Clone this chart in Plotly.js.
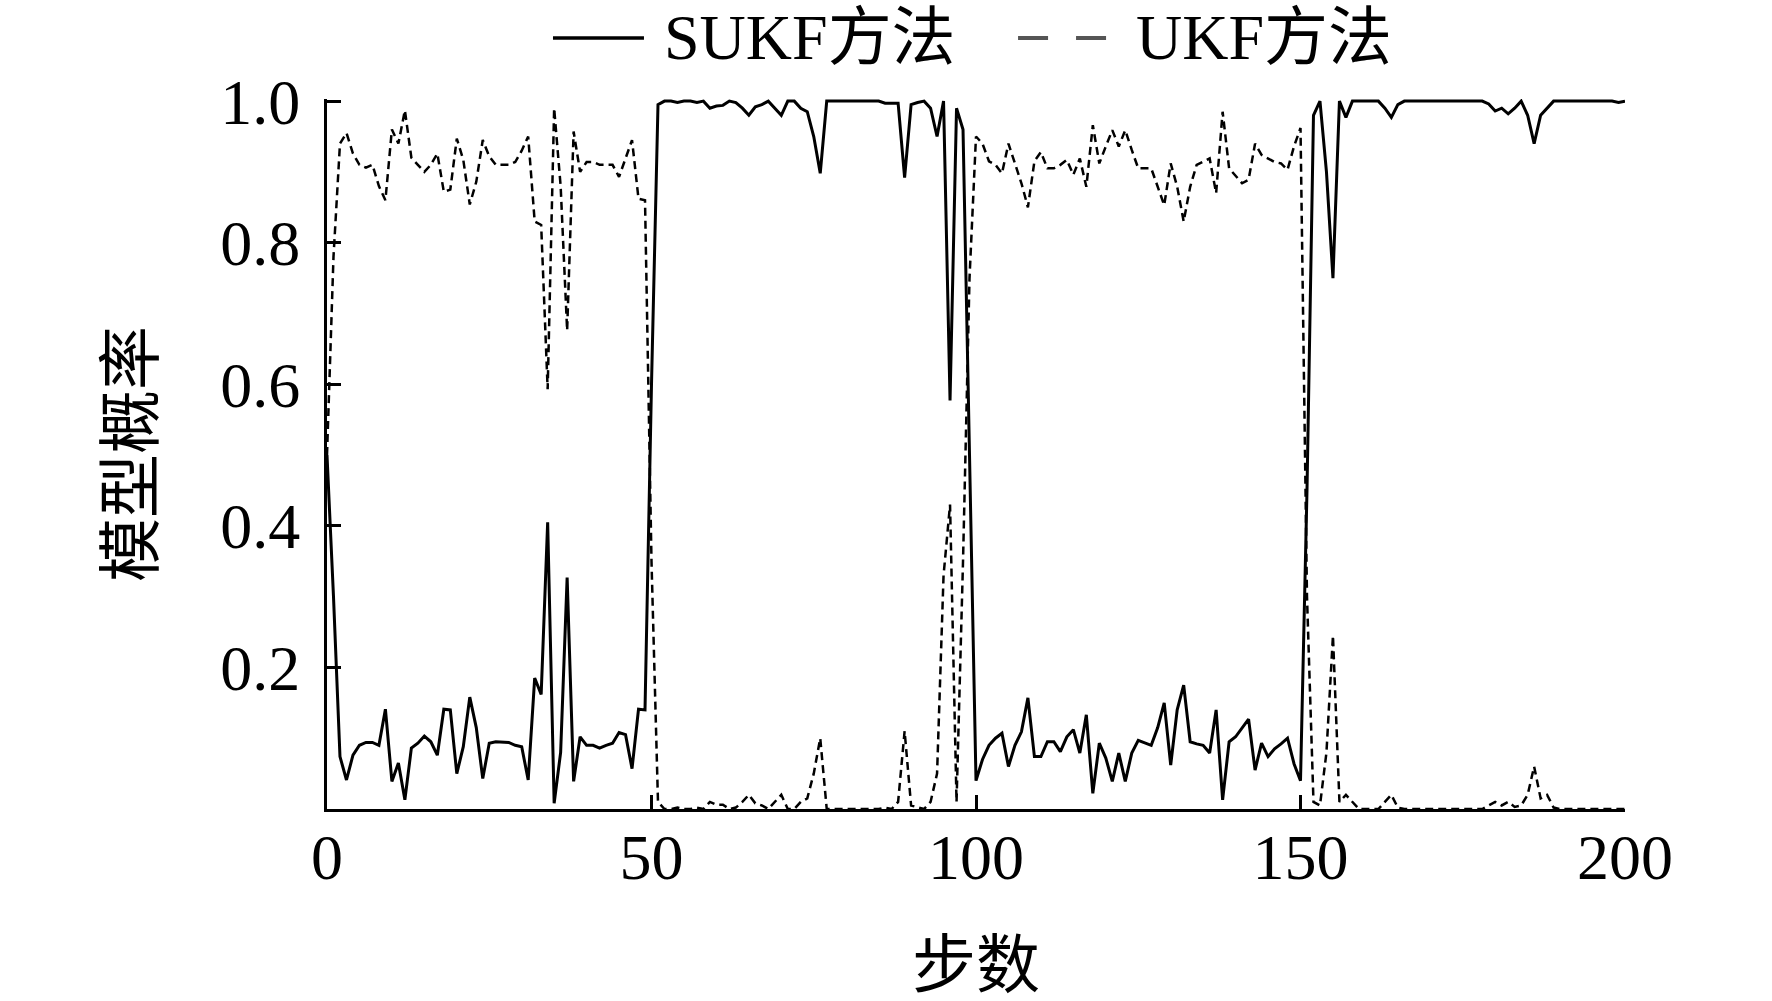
<!doctype html>
<html lang="zh">
<head>
    <meta charset="UTF-8">
    <title>模型概率</title>
    <script src="https://cdn.plot.ly/plotly-3.0.1.min.js"></script>
    <style>
        html, body { margin: 0; padding: 0; background: #fff; }
        #chart { width: 1772px; height: 1001px; }
    </style>
</head>
<body>
    <div id="chart"></div>
    <script>
        // model probability per step, steps 0..200
        var sukf = [
            0.50, 0.30, 0.074, 0.041, 0.076, 0.090, 0.094, 0.094, 0.090, 0.141,
            0.039, 0.065, 0.013, 0.086, 0.093, 0.103, 0.095, 0.076, 0.141, 0.140,
            0.050, 0.088, 0.158, 0.115, 0.043, 0.093, 0.095, 0.095, 0.094, 0.090,
            0.088, 0.041, 0.185, 0.162, 0.405, 0.008, 0.080, 0.327, 0.039, 0.102,
            0.090, 0.090, 0.086, 0.090, 0.093, 0.108, 0.105, 0.057, 0.141, 0.140,
            0.600, 0.995, 1.000, 1.000, 0.998, 1.000, 1.000, 0.998, 1.000, 0.990,
            0.993, 0.994, 1.000, 0.998, 0.990, 0.980, 0.992, 0.995, 1.000, 0.990,
            0.980, 1.000, 1.000, 0.990, 0.985, 0.950, 0.898, 1.000, 1.000, 1.000,
            1.000, 1.000, 1.000, 1.000, 1.000, 1.000, 0.997, 0.997, 0.997, 0.892,
            0.995, 0.998, 1.000, 0.990, 0.950, 1.000, 0.577, 0.990, 0.960, 0.500,
            0.040, 0.070, 0.090, 0.100, 0.107, 0.060, 0.090, 0.109, 0.157, 0.074,
            0.074, 0.095, 0.095, 0.081, 0.102, 0.112, 0.079, 0.133, 0.022, 0.093,
            0.072, 0.039, 0.079, 0.039, 0.079, 0.097, 0.093, 0.090, 0.115, 0.150,
            0.062, 0.140, 0.175, 0.095, 0.092, 0.090, 0.079, 0.140, 0.013, 0.095,
            0.102, 0.115, 0.127, 0.055, 0.093, 0.074, 0.085, 0.092, 0.100, 0.064,
            0.040, 0.450, 0.980, 1.000, 0.900, 0.750, 1.000, 0.977, 1.000, 1.000,
            1.000, 1.000, 1.000, 0.990, 0.977, 0.995, 1.000, 1.000, 1.000, 1.000,
            0.999, 1.000, 1.000, 1.000, 1.000, 0.999, 1.000, 1.000, 1.000, 0.996,
            0.986, 0.990, 0.982, 0.990, 1.000, 0.980, 0.940, 0.980, 0.990, 1.000,
            1.000, 1.000, 1.000, 1.000, 1.000, 1.000, 1.000, 1.000, 1.000, 0.998,
            1.000
        ];

        var ukf = [
            0.50, 0.78, 0.940, 0.955, 0.926, 0.910, 0.906, 0.910, 0.880, 0.860,
            0.960, 0.940, 0.987, 0.920, 0.910, 0.900, 0.910, 0.926, 0.872, 0.875,
            0.947, 0.917, 0.854, 0.886, 0.945, 0.922, 0.910, 0.910, 0.910, 0.914,
            0.930, 0.950, 0.830, 0.825, 0.593, 0.990, 0.880, 0.676, 0.957, 0.900,
            0.914, 0.914, 0.910, 0.910, 0.910, 0.893, 0.920, 0.945, 0.862, 0.860,
            0.350, 0.010, 0.000, 0.000, 0.002, 0.000, 0.000, 0.002, 0.000, 0.010,
            0.006, 0.006, 0.000, 0.002, 0.010, 0.020, 0.008, 0.005, 0.000, 0.010,
            0.020, 0.000, 0.000, 0.010, 0.015, 0.050, 0.100, 0.000, 0.000, 0.000,
            0.000, 0.000, 0.000, 0.000, 0.000, 0.000, 0.002, 0.000, 0.010, 0.110,
            0.005, 0.002, 0.000, 0.010, 0.050, 0.330, 0.430, 0.010, 0.350, 0.750,
            0.950, 0.940, 0.915, 0.910, 0.898, 0.940, 0.912, 0.884, 0.850, 0.915,
            0.928, 0.905, 0.905, 0.910, 0.917, 0.896, 0.919, 0.879, 0.966, 0.912,
            0.936, 0.959, 0.936, 0.959, 0.931, 0.905, 0.905, 0.905, 0.879, 0.853,
            0.912, 0.879, 0.830, 0.879, 0.910, 0.915, 0.919, 0.870, 0.985, 0.905,
            0.895, 0.884, 0.889, 0.940, 0.924, 0.919, 0.914, 0.912, 0.903, 0.936,
            0.962, 0.300, 0.010, 0.005, 0.080, 0.245, 0.010, 0.020, 0.010, 0.000,
            0.000, 0.000, 0.000, 0.010, 0.020, 0.002, 0.000, 0.000, 0.000, 0.000,
            0.000, 0.000, 0.000, 0.000, 0.000, 0.000, 0.000, 0.000, 0.000, 0.005,
            0.010, 0.005, 0.010, 0.003, 0.005, 0.020, 0.060, 0.015, 0.020, 0.002,
            0.000, 0.000, 0.000, 0.000, 0.000, 0.000, 0.000, 0.000, 0.000, 0.000,
            0.000
        ];

        var seriesNames = ['SUKF方法', 'UKF方法'];
        var xTicks = [0, 50, 100, 150, 200];
        var yTicks = [0.2, 0.4, 0.6, 0.8, 1.0];
        var yTickText = ['0.2', '0.4', '0.6', '0.8', '1.0'];

        var font = 'Liberation Serif, Times New Roman, Noto Sans CJK SC, serif';

        var traces = [
            {
                y: sukf, x0: 0, dx: 1,
                type: 'scatter', mode: 'lines', name: seriesNames[0],
                line: { color: '#000', width: 3 }
            },
            {
                y: ukf, x0: 0, dx: 1,
                type: 'scatter', mode: 'lines', name: seriesNames[1],
                line: { color: '#000', width: 2.5, dash: '8px,5px' }
            }
        ];

        // hand-drawn legend across the top
        var legendY = 1.086;
        var layout = {
            width: 1772,
            height: 1001,
            margin: { l: 327, r: 147, t: 99, b: 192 },
            paper_bgcolor: '#fff',
            plot_bgcolor: '#fff',
            showlegend: false,
            font: { family: font, size: 64, color: '#000' },
            xaxis: {
                range: [0, 200],
                tickvals: xTicks,
                ticks: 'inside', ticklen: 14, tickwidth: 3, tickcolor: '#000',
                showline: true, linewidth: 3, linecolor: '#000',
                showgrid: false, zeroline: false,
                ticklabelstandoff: -10,
                tickfont: { family: font, size: 64 },
                title: { text: '步数', font: { family: font, size: 64 }, standoff: 60 }
            },
            yaxis: {
                range: [0, 1.003],
                tickvals: yTicks,
                ticktext: yTickText,
                ticks: 'inside', ticklen: 14, tickwidth: 3, tickcolor: '#000',
                showline: true, linewidth: 3, linecolor: '#000',
                showgrid: false, zeroline: false,
                ticklabelstandoff: 11,
                tickfont: { family: font, size: 64 },
                title: { text: '模型概率', font: { family: font, size: 64 }, standoff: 46 }
            },
            shapes: [
                { type: 'line', xref: 'paper', yref: 'paper',
                  x0: 0.1741, x1: 0.2442, y0: legendY, y1: legendY,
                  line: { color: '#000', width: 3.5 } },
                { type: 'line', xref: 'paper', yref: 'paper',
                  x0: 0.5324, x1: 0.6055, y0: legendY, y1: legendY,
                  line: { color: '#555', width: 4, dash: '30px,28px' } }
            ],
            annotations: [
                { xref: 'paper', yref: 'paper', x: 0.2581, y: legendY,
                  xanchor: 'left', yanchor: 'middle', showarrow: false,
                  text: seriesNames[0], font: { family: font, size: 64 } },
                { xref: 'paper', yref: 'paper', x: 0.6217, y: legendY,
                  xanchor: 'left', yanchor: 'middle', showarrow: false,
                  text: seriesNames[1], font: { family: font, size: 64 } }
            ]
        };

        Plotly.newPlot('chart', traces, layout, { staticPlot: true, displayModeBar: false });
    </script>
</body>
</html>
